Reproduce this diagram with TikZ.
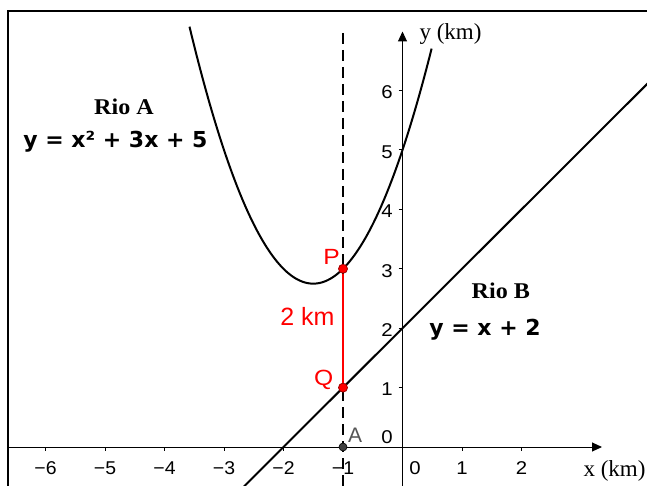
\documentclass[tikz,border=0pt]{standalone}
\usepackage{fontspec}
\setmainfont{Liberation Serif}
\newfontfamily\arialf{Liberation Sans}
\newfontfamily\verdf{DejaVu Sans}
\usetikzlibrary{arrows.meta}
\definecolor{ptred}{HTML}{FF0000}
\definecolor{ptborder}{HTML}{A00000}
\definecolor{agray}{HTML}{555555}
\definecolor{adot}{HTML}{404040}
\newcommand{\wide}[2]{\scalebox{#1}[1]{#2}}
\tikzset{
  axisline/.style={line width=1pt, -{Triangle[length=10pt,width=9pt]}},
  tickline/.style={line width=1pt},
  curve/.style={line width=2pt},
  ticklab/.style={font=\arialf\fontsize{18.5}{20}\selectfont, inner sep=0pt},
  ptdot/.style={circle, inner sep=0pt, minimum size=9pt, fill=ptred, draw=ptborder, line width=0.8pt},
  adotst/.style={circle, inner sep=0pt, minimum size=8pt, fill=adot, draw=black, line width=0.6pt},
  redlab/.style={text=ptred, font=\arialf\fontsize{22}{24}\selectfont, inner sep=0pt},
  riolab/.style={font=\bfseries\fontsize{22.5}{26}\selectfont, inner sep=0pt},
  eqlab/.style={font=\verdf\bfseries\fontsize{22}{25}\selectfont, inner sep=0pt},
  unitlab/.style={font=\fontsize{23}{26}\selectfont, inner sep=0pt}
}
\begin{document}
\begin{tikzpicture}[x=1pt,y=-1pt]
\useasboundingbox (0,0) rectangle (647,486);
\clip (0,0) rectangle (647,486);
% frame
\draw[line width=1.8pt] (8,492) -- (8,11) -- (652,11);
% axes
\draw[axisline] (8,447) -- (602,447);
\draw[axisline] (402.5,492) -- (402.5,31.5);
% ticks
\foreach \i in {-6,-5,-4,-3,-2,-1,1,2} {
  \draw[tickline] ({402.5+59.5*\i},447) -- ({402.5+59.5*\i},451);
}
\foreach \j in {1,...,6} {
  \draw[tickline] (398.5,{447-59.4*\j}) -- (402.5,{447-59.4*\j});
  \node[ticklab, anchor=east] at (393,{449-59.4*\j}) {\wide{1.1}{\j}};
}
\foreach \i in {-6,-5,-4,-3,-2,-1} {
  \node[ticklab] at ({402.5+59.5*\i},468) {\wide{1.05}{−\the\numexpr-\i\relax}};
}
\node[ticklab] at (415,468) {\wide{1.1}{0}};
\node[ticklab] at ({402.5+59.5},468) {\wide{1.1}{1}};
\node[ticklab] at ({402.5+119},468) {\wide{1.1}{2}};
\node[ticklab, anchor=east] at (393,437.5) {\wide{1.1}{0}};
% dashed line x = -1
\draw[line width=1.2pt, dash pattern=on 11pt off 6pt] (343,33) -- (343,492);
% Rio A parabola
\draw[curve, domain=-3.58:0.49, samples=120, smooth] plot ({402.5+59.5*\x},{447-59.4*(\x*\x+3*\x+5)});
% Rio B line
\draw[curve] ({402.5+59.5*(-2.9)},{447-59.4*(-0.9)}) -- ({402.5+59.5*4.3},{447-59.4*6.3});
% points
\node[adotst] (A) at (343,447) {};
\node[ptdot] (P) at (343,{447-59.4*3}) {};
\node[ptdot] (Q) at (343,{447-59.4*1}) {};
\draw[ptred, line width=1.5pt] (P) -- (Q);
% labels
\node[redlab, anchor=base east] (Plab) at (340,264) {\wide{1.12}{P}};
\node[redlab, anchor=base east] (Qlab) at (333.5,385.5) {\wide{1.12}{Q}};
\node[redlab, font=\arialf\fontsize{25}{28}\selectfont, anchor=base] (dlab) at (307.5,325) {2 km};
\node[inner sep=0pt, text=agray, font=\arialf\fontsize{21}{24}\selectfont, anchor=base west] (Alab) at (348,442) {A};
\node[riolab, anchor=base] (rioA) at (124,115) {\wide{1.07}{Rio A}};
\node[eqlab, anchor=base] (eqA) at (115.4,148) {y = x² + 3x + 5};
\node[riolab, anchor=base] (rioB) at (500.8,298.3) {\wide{1.07}{Rio B}};
\node[eqlab, anchor=base] (eqB) at (485,335) {y = x + 2};
\node[unitlab, anchor=base west] (ylab) at (419.3,40) {y (km)};
\node[unitlab, anchor=base west] (xlab) at (583.3,476) {x (km)};
\end{tikzpicture}
\end{document}
